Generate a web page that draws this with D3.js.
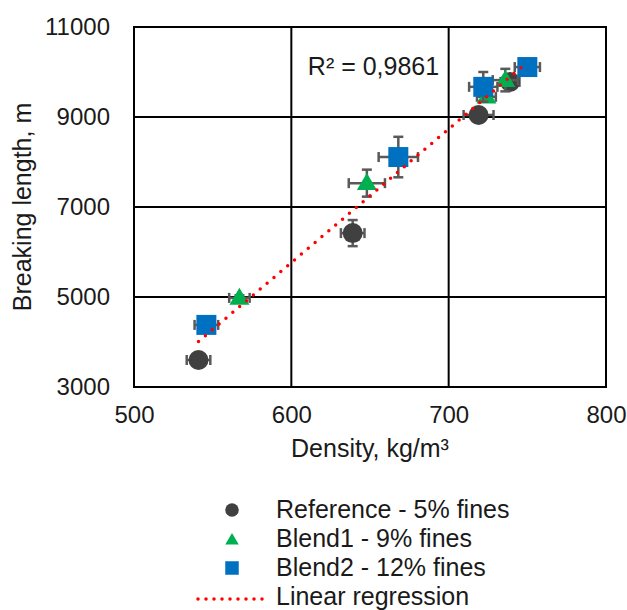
<!DOCTYPE html>
<html>
<head>
<meta charset="utf-8">
<script src="https://cdn.jsdelivr.net/npm/d3@7"></script>
<style>
  body { margin: 0; background: #fff; }
  svg text { font-family: "Liberation Sans", Arial, sans-serif; fill: #1a1a1a; }
</style>
</head>
<body>
<div id="chart"></div>
<script>
// ---- data ----
var seriesNames = ["Reference - 5% fines", "Blend1 - 9% fines", "Blend2 - 12% fines"];

var refX    = [541, 639, 719, 739];
var refY    = [3600, 6420, 9045, 9780];
var refXErr = [7.5, 7.5, 9.5, 6];
var refYErr = [80, 290, 80, 150];

var b1X    = [567, 648, 724, 736];
var b1Y    = [4980, 7530, 9450, 9820];
var b1XErr = [6.5, 11.5, 6, 8];
var b1YErr = [60, 300, 100, 250];

var b2X    = [546, 668, 722, 750];
var b2Y    = [4380, 8110, 9670, 10110];
var b2XErr = [7.5, 12.5, 9, 8];
var b2YErr = [100, 450, 330, 150];

var xTicks = [500, 600, 700, 800];
var yTicks = [3000, 5000, 7000, 9000, 11000];
var r2Label = "R² = 0,9861";

var W = 627, H = 610;
var m = {left: 134, top: 27, right: 21, bottom: 223};
var w = W - m.left - m.right, h = H - m.top - m.bottom;

var svg = d3.select("#chart").append("svg").attr("width", W).attr("height", H);
var g = svg.append("g").attr("transform", "translate(" + m.left + "," + m.top + ")");

var x = d3.scaleLinear().domain([500, 800]).range([0, w]);
var y = d3.scaleLinear().domain([3000, 11000]).range([h, 0]);

function pack(xs, ys, xe, ye) {
  return xs.map(function(v, i){ return {x: v, y: ys[i], xe: xe[i], ye: ye[i]}; });
}
var series = [
  {name: seriesNames[0], color: "#404040", shape: "circle",   pts: pack(refX, refY, refXErr, refYErr)},
  {name: seriesNames[1], color: "#00b050", shape: "triangle", pts: pack(b1X, b1Y, b1XErr, b1YErr)},
  {name: seriesNames[2], color: "#0070c0", shape: "square",   pts: pack(b2X, b2Y, b2XErr, b2YErr)}
];

// grid
g.selectAll(".vg").data(xTicks.slice(1, -1)).enter().append("line")
  .attr("x1", function(d){ return x(d); }).attr("x2", function(d){ return x(d); })
  .attr("y1", 0).attr("y2", h).attr("stroke", "#000").attr("stroke-width", 2);
g.selectAll(".hg").data(yTicks.slice(1, -1)).enter().append("line")
  .attr("y1", function(d){ return y(d); }).attr("y2", function(d){ return y(d); })
  .attr("x1", 0).attr("x2", w).attr("stroke", "#000").attr("stroke-width", 2);
g.append("rect").attr("width", w).attr("height", h)
  .attr("fill", "none").attr("stroke", "#000").attr("stroke-width", 2);

// axes (labels only)
var xa = g.append("g").attr("transform", "translate(0," + h + ")")
  .call(d3.axisBottom(x).tickValues(xTicks).tickSize(0).tickPadding(36).tickFormat(d3.format("d")));
var ya = g.append("g")
  .call(d3.axisLeft(y).tickValues(yTicks).tickSize(0).tickPadding(24).tickFormat(d3.format("d")));
[xa, ya].forEach(function(a){
  a.select(".domain").remove();
  a.selectAll("text").attr("font-size", 24).attr("fill", "#1a1a1a")
    .style("font-family", '"Liberation Sans", Arial, sans-serif');
});
xa.selectAll("text").attr("dy", null).attr("y", 36);

// symbols
function symPath(shape, size) {
  if (shape === "circle") return d3.symbol().type(d3.symbolCircle).size(Math.PI * size * size / 4)();
  if (shape === "square") return "M" + (-size/2) + "," + (-size/2) + "h" + size + "v" + size + "h" + (-size) + "Z";
  var th = size * 0.85;
  return "M0," + (-th * 0.6) + "L" + (size/2) + "," + (th * 0.4) + "L" + (-size/2) + "," + (th * 0.4) + "Z";
}

var cap = 5, ebColor = "#595959";
series.forEach(function(s){
  var sg = g.append("g");
  s.pts.forEach(function(p){
    var cx = x(p.x), cy = y(p.y);
    var x0 = x(p.x - p.xe), x1 = x(p.x + p.xe), y0 = y(p.y - p.ye), y1 = y(p.y + p.ye);
    var eb = sg.append("g").attr("stroke", ebColor).attr("stroke-width", 2.5).attr("fill", "none");
    eb.append("line").attr("x1", x0).attr("x2", x1).attr("y1", cy).attr("y2", cy);
    eb.append("line").attr("x1", x0).attr("x2", x0).attr("y1", cy - cap).attr("y2", cy + cap);
    eb.append("line").attr("x1", x1).attr("x2", x1).attr("y1", cy - cap).attr("y2", cy + cap);
    eb.append("line").attr("x1", cx).attr("x2", cx).attr("y1", y0).attr("y2", y1);
    eb.append("line").attr("y1", y0).attr("y2", y0).attr("x1", cx - cap).attr("x2", cx + cap);
    eb.append("line").attr("y1", y1).attr("y2", y1).attr("x1", cx - cap).attr("x2", cx + cap);
  });
  sg.selectAll("path.mk").data(s.pts).enter().append("path")
    .attr("transform", function(p){ return "translate(" + x(p.x) + "," + y(p.y) + ")"; })
    .attr("d", symPath(s.shape, 20)).attr("fill", s.color);
});

// linear regression over all points
var all = [].concat(series[0].pts, series[1].pts, series[2].pts);
var mx = d3.mean(all, function(p){ return p.x; }), my = d3.mean(all, function(p){ return p.y; });
var slope = d3.sum(all, function(p){ return (p.x - mx) * (p.y - my); }) /
            d3.sum(all, function(p){ return (p.x - mx) * (p.x - mx); });
var ext = d3.extent(all, function(p){ return p.x; });
g.append("line")
  .attr("x1", x(ext[0])).attr("y1", y(my + slope * (ext[0] - mx)))
  .attr("x2", x(ext[1])).attr("y2", y(my + slope * (ext[1] - mx)))
  .attr("stroke", "#ff0000").attr("stroke-width", 3.5)
  .attr("stroke-linecap", "round").attr("stroke-dasharray", "0,9");

g.append("text").attr("x", x(610.5)).attr("y", 48).attr("font-size", 25).text(r2Label);

// axis titles
svg.append("text").attr("x", m.left + w / 2).attr("y", 457).attr("text-anchor", "middle")
  .attr("font-size", 25).text("Density, kg/m³");
svg.append("text").attr("transform", "translate(31," + (m.top + h / 2) + ") rotate(-90)")
  .attr("text-anchor", "middle").attr("font-size", 25).text("Breaking length, m");

// legend
var lg = svg.append("g");
var rows = [518, 547, 576, 605];
series.forEach(function(s, i){
  lg.append("path").attr("transform", "translate(232," + (rows[i] - 8 + (s.shape === "triangle" ? 1 : 0)) + ")")
    .attr("d", symPath(s.shape, 13.5)).attr("fill", s.color);
  lg.append("text").attr("x", 276).attr("y", rows[i]).attr("font-size", 25).text(s.name);
});
lg.append("line").attr("x1", 198).attr("x2", 264).attr("y1", rows[3] - 6).attr("y2", rows[3] - 6)
  .attr("stroke", "#ff0000").attr("stroke-width", 3.5)
  .attr("stroke-linecap", "round").attr("stroke-dasharray", "0,8");
lg.append("text").attr("x", 276).attr("y", rows[3]).attr("font-size", 25).text("Linear regression");
</script>
</body>
</html>
